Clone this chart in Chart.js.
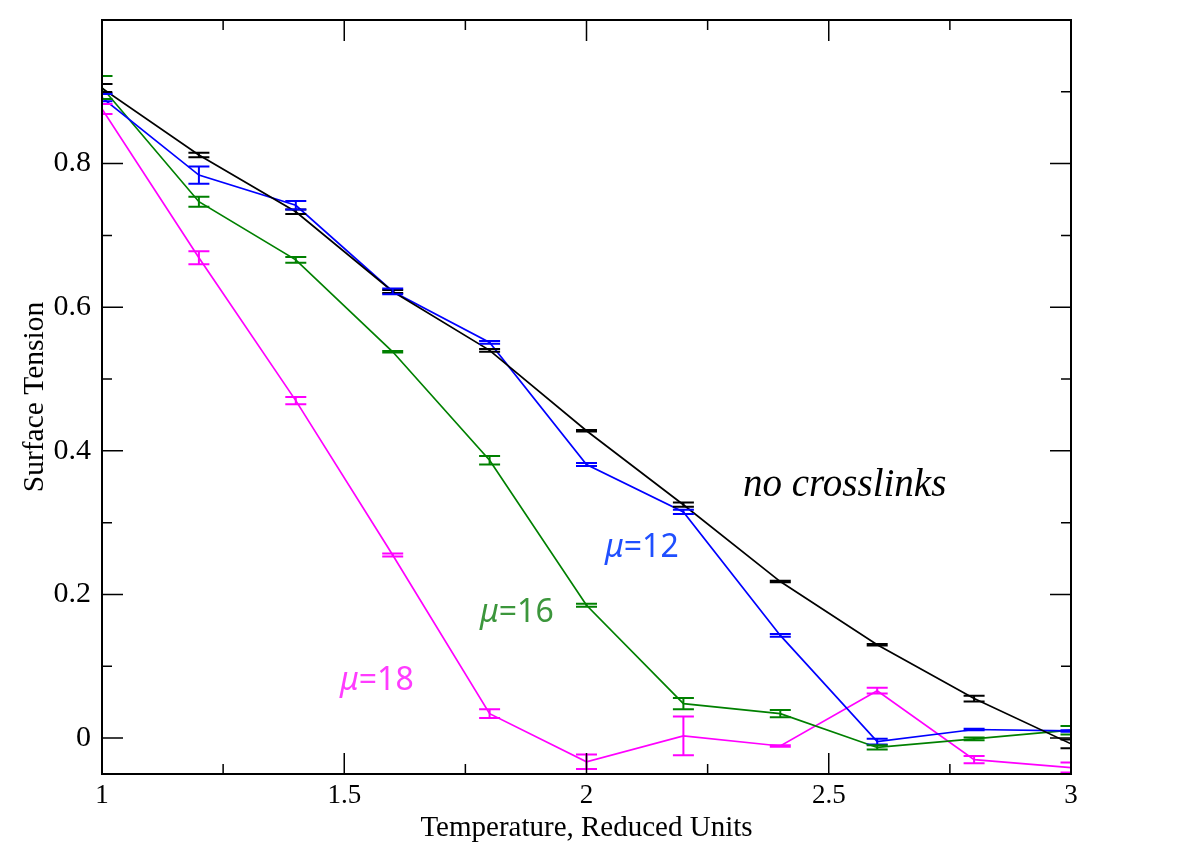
<!DOCTYPE html>
<html>
<head>
<meta charset="utf-8">
<script src="https://cdn.jsdelivr.net/npm/chart.js@4.4.0/dist/chart.umd.min.js"></script>
<style>
  html, body { margin: 0; padding: 0; background: #fff; }
</style>
</head>
<body>
<canvas id="chart" width="1183" height="843"></canvas>
<script>
// temperatures (reduced units)
const temps = [1.0, 1.2, 1.4, 1.6, 1.8, 2.0, 2.2, 2.4, 2.6, 2.8, 3.0];

// surface tension values and error half-widths
const noCross    = [0.905, 0.812, 0.733, 0.622, 0.540, 0.428, 0.325, 0.218, 0.130, 0.055, -0.008];
const noCrossErr = [0.006, 0.003, 0.003, 0.002, 0.002, 0.001, 0.003, 0.001, 0.001, 0.004, 0.006];
const mu12       = [0.892, 0.784, 0.742, 0.622, 0.551, 0.381, 0.315, 0.143, -0.005, 0.012, 0.010];
const mu12Err    = [0.005, 0.012, 0.006, 0.004, 0.002, 0.002, 0.003, 0.002, 0.004, 0.001, 0.001];
const mu16       = [0.906, 0.747, 0.666, 0.538, 0.387, 0.185, 0.048, 0.034, -0.013, -0.001, 0.011];
const mu16Err    = [0.016, 0.007, 0.004, 0.001, 0.006, 0.002, 0.008, 0.005, 0.003, 0.002, 0.006];
const mu18       = [0.876, 0.669, 0.470, 0.255, 0.034, -0.033, 0.003, -0.011, 0.066, -0.030, -0.041];
const mu18Err    = [0.007, 0.009, 0.005, 0.002, 0.006, 0.010, 0.027, 0.001, 0.004, 0.005, 0.007];

// axis ticks
const xTicks = [1, 1.5, 2, 2.5, 3];
const xMinor = [1.25, 1.75, 2.25, 2.75];
const yTicks = [0, 0.2, 0.4, 0.6, 0.8];
const yMinor = [0.1, 0.3, 0.5, 0.7, 0.9];

const seriesColors = ['#000000', '#0000ff', '#008000', '#ff00ff'];
const errors = [noCrossErr, mu12Err, mu16Err, mu18Err];

function pts(values) {
  return temps.map((t, i) => ({ x: t, y: values[i] }));
}

// draw the error bars with caps
const errorBars = {
  id: 'errorBars',
  afterDatasetsDraw(chart) {
    const ctx = chart.ctx;
    const xs = chart.scales.x, ys = chart.scales.y;
    const area = chart.chartArea;
    ctx.save();
    ctx.beginPath();
    ctx.rect(area.left, area.top, area.right - area.left, area.bottom - area.top);
    ctx.clip();
    chart.data.datasets.forEach((ds, i) => {
      ctx.strokeStyle = ds.borderColor;
      ctx.lineWidth = 2;
      ds.data.forEach((p, j) => {
        const e = errors[i][j];
        const x = xs.getPixelForValue(p.x);
        const y1 = ys.getPixelForValue(p.y + e);
        const y2 = ys.getPixelForValue(p.y - e);
        ctx.beginPath();
        ctx.moveTo(x, y1); ctx.lineTo(x, y2);
        ctx.moveTo(x - 10.5, y1); ctx.lineTo(x + 10.5, y1);
        ctx.moveTo(x - 10.5, y2); ctx.lineTo(x + 10.5, y2);
        ctx.stroke();
      });
    });
    ctx.restore();
  }
};

// frame with inward ticks on all four sides, plus the curve labels
const frame = {
  id: 'frame',
  afterDraw(chart) {
    const ctx = chart.ctx;
    const xs = chart.scales.x, ys = chart.scales.y;
    const a = chart.chartArea;
    ctx.save();
    ctx.strokeStyle = '#000';
    ctx.lineWidth = 2;
    ctx.strokeRect(a.left, a.top, a.right - a.left, a.bottom - a.top);
    ctx.lineWidth = 1.5;
    ctx.beginPath();
    const xt = (v, len) => {
      const x = xs.getPixelForValue(v);
      ctx.moveTo(x, a.bottom); ctx.lineTo(x, a.bottom - len);
      ctx.moveTo(x, a.top); ctx.lineTo(x, a.top + len);
    };
    const yt = (v, len) => {
      const y = ys.getPixelForValue(v);
      ctx.moveTo(a.left, y); ctx.lineTo(a.left + len, y);
      ctx.moveTo(a.right, y); ctx.lineTo(a.right - len, y);
    };
    xTicks.forEach(v => xt(v, 21));
    xMinor.forEach(v => xt(v, 10));
    yTicks.forEach(v => yt(v, 21));
    yMinor.forEach(v => yt(v, 10));
    ctx.stroke();

    // labels on the curves
    ctx.textBaseline = 'alphabetic';
    ctx.textAlign = 'left';
    ctx.fillStyle = '#000';
    ctx.font = 'italic 39px "Liberation Serif"';
    ctx.fillText('no crosslinks', 743, 496);

    const muLabel = (num, x, y, color) => {
      ctx.fillStyle = color;
      ctx.font = 'italic 32px "Noto Sans"';
      ctx.fillText('\u03bc', x, y);
      const w = ctx.measureText('\u03bc').width;
      ctx.font = '32px "Noto Sans"';
      ctx.fillText('=' + num, x + w, y);
    };
    muLabel('12', 605, 557, '#1f4fff');
    muLabel('16', 480, 622, '#3c963c');
    muLabel('18', 340, 690, '#ff3cff');
    ctx.restore();
  }
};

new Chart(document.getElementById('chart').getContext('2d'), {
  type: 'line',
  data: {
    datasets: [
      { label: 'no crosslinks', data: pts(noCross), borderColor: seriesColors[0] },
      { label: 'mu=12', data: pts(mu12), borderColor: seriesColors[1] },
      { label: 'mu=16', data: pts(mu16), borderColor: seriesColors[2] },
      { label: 'mu=18', data: pts(mu18), borderColor: seriesColors[3] }
    ].map(d => Object.assign(d, { borderWidth: 1.7, pointRadius: 0, fill: false, tension: 0 }))
  },
  options: {
    responsive: false,
    animation: false,
    devicePixelRatio: 1,
    layout: { padding: { left: 0, right: 112, top: 20, bottom: 0 } },
    plugins: { legend: { display: false }, tooltip: { enabled: false } },
    scales: {
      x: {
        type: 'linear',
        min: 1, max: 3,
        grid: { display: false, drawTicks: false },
        border: { display: false },
        afterBuildTicks: s => { s.ticks = xTicks.map(v => ({ value: v })); },
        afterFit: s => { s.height = 69; s.paddingLeft = 0; s.paddingRight = 0; },
        ticks: {
          padding: 6,
          maxRotation: 0,
          color: '#000',
          font: { family: 'Liberation Serif', size: 27 },
          callback: v => String(v)
        },
        title: {
          display: true,
          text: 'Temperature, Reduced Units',
          color: '#000',
          padding: 0,
          font: { family: 'Liberation Serif', size: 29, lineHeight: 1 }
        }
      },
      y: {
        type: 'linear',
        min: -0.05, max: 1.0,
        grid: { display: false, drawTicks: false },
        border: { display: false },
        afterBuildTicks: s => { s.ticks = yTicks.map(v => ({ value: v })); },
        afterFit: s => { s.width = 102; s.paddingTop = 0; s.paddingBottom = 0; },
        ticks: {
          padding: 11,
          color: '#000',
          font: { family: 'Liberation Serif', size: 30 },
          callback: v => String(v)
        },
        title: {
          display: true,
          text: 'Surface Tension',
          color: '#000',
          padding: { top: 20, bottom: 0 },
          font: { family: 'Liberation Serif', size: 29.5, lineHeight: 1 }
        }
      }
    }
  },
  plugins: [errorBars, frame]
});
</script>
</body>
</html>
